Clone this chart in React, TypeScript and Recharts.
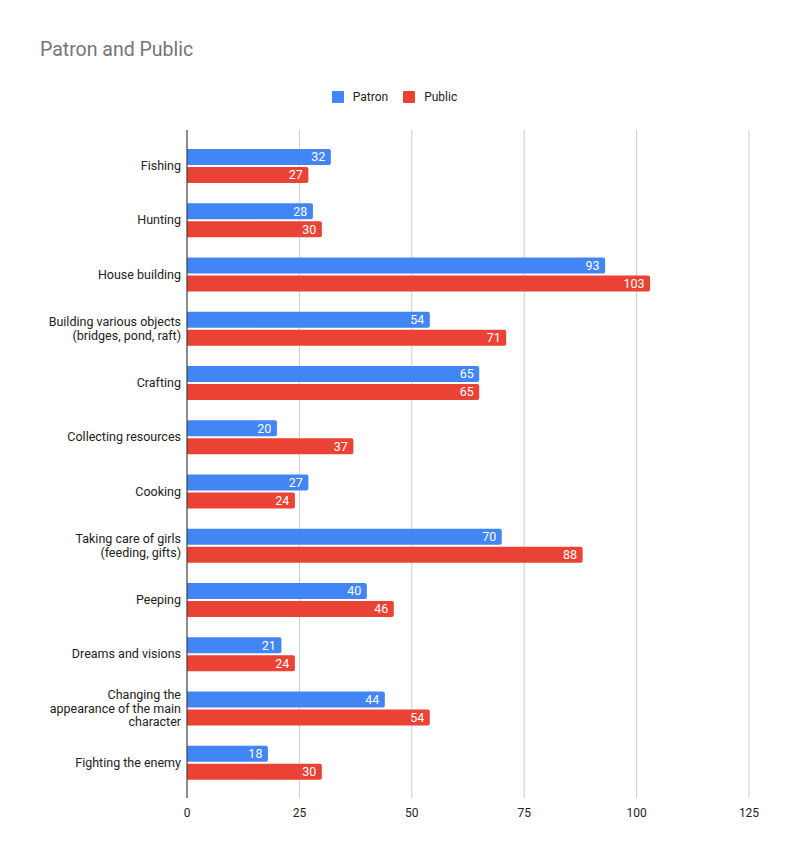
import React from "react";
import {
  BarChart,
  Bar,
  XAxis,
  YAxis,
  CartesianGrid,
  LabelList
} from "recharts";

// categories (line breaks where the original wraps them)
const activities = [
  "Fishing",
  "Hunting",
  "House building",
  "Building various objects\n(bridges, pond, raft)",
  "Crafting",
  "Collecting resources",
  "Cooking",
  "Taking care of girls\n(feeding, gifts)",
  "Peeping",
  "Dreams and visions",
  "Changing the\nappearance of the main\ncharacter",
  "Fighting the enemy"
];

const patron = [32, 28, 93, 54, 65, 20, 27, 70, 40, 21, 44, 18];
const publicVotes = [27, 30, 103, 71, 65, 37, 24, 88, 46, 24, 54, 30];

const xTicks = [0, 25, 50, 75, 100, 125];

const series = [
  { key: "patron", name: "Patron", color: "#4285F4" },
  { key: "public", name: "Public", color: "#EA4335" }
];

const data = activities.map((name, i) => ({
  name,
  patron: patron[i],
  public: publicVotes[i]
}));

const FONT = "Roboto, Arial, sans-serif";

const CategoryTick = ({ x, y, payload }) => {
  const lines = String(payload.value).split("\n");
  const lineH = 13.5;
  const startDy = -((lines.length - 1) * lineH) / 2 + 4;
  return (
    <text
      x={x}
      y={y}
      textAnchor="end"
      fill="#222"
      fontSize={12.5}
      fontFamily={FONT}
    >
      {lines.map((l, i) => (
        <tspan key={i} x={x} dy={i === 0 ? startDy : lineH}>
          {l}
        </tspan>
      ))}
    </text>
  );
};

export default function App() {
  return (
    <div
      style={{
        position: "absolute",
        left: 0,
        top: 0,
        width: 789,
        height: 859,
        background: "#fff",
        fontFamily: FONT
      }}
    >
      <div
        style={{
          position: "absolute",
          left: 40,
          top: 38,
          fontSize: 19.5,
          color: "#757575"
        }}
      >
        Patron and Public
      </div>
      <div
        style={{
          position: "absolute",
          left: 0,
          top: 90,
          width: 789,
          display: "flex",
          justifyContent: "center",
          gap: 15,
          fontSize: 12,
          color: "#222"
        }}
      >
        {series.map((s) => (
          <div key={s.key} style={{ display: "flex", alignItems: "center" }}>
            <span
              style={{
                display: "inline-block",
                width: 12,
                height: 12,
                background: s.color,
                borderRadius: 1,
                marginRight: 9
              }}
            />
            <span>{s.name}</span>
          </div>
        ))}
      </div>
      <BarChart
        width={789}
        height={859}
        data={data}
        layout="vertical"
        margin={{ top: 130, right: 40, left: 0, bottom: 31 }}
        barSize={16}
        barGap={2}
      >
        <CartesianGrid horizontal={false} stroke="#cccccc" />
        <XAxis
          type="number"
          domain={[0, 125]}
          ticks={xTicks}
          axisLine={false}
          tickLine={false}
          tickSize={0}
          tickMargin={10}
          height={30}
          tick={{ fill: "#222", fontSize: 12, fontFamily: FONT }}
        />
        <YAxis
          type="category"
          dataKey="name"
          width={187}
          padding={{ top: 9, bottom: 8 }}
          axisLine={{ stroke: "#333", strokeWidth: 1 }}
          tickLine={false}
          tickSize={0}
          tickMargin={6}
          interval={0}
          tick={<CategoryTick />}
        />
        {series.map((s) => (
          <Bar
            key={s.key}
            dataKey={s.key}
            name={s.name}
            fill={s.color}
            radius={[0, 2, 2, 0]}
            isAnimationActive={false}
          >
            <LabelList
              dataKey={s.key}
              position="insideRight"
              offset={5.5}
              fill="#fff"
              fontSize={12.5}
              fontFamily={FONT}
            />
          </Bar>
        ))}
      </BarChart>
    </div>
  );
}
